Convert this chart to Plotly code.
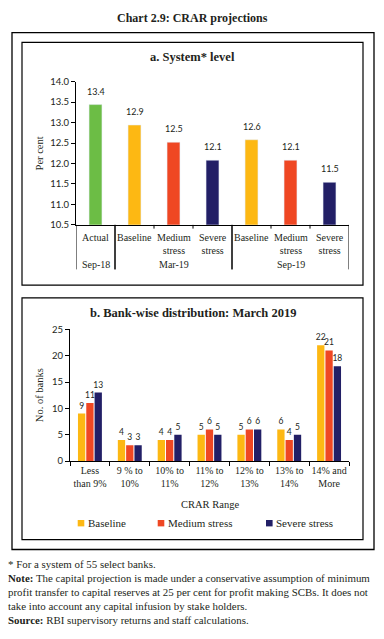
import plotly.graph_objects as go

W, H = 384, 639
def X(p): return p / W
def Y(p): return 1 - p / H

TXT = "#231F20"
SERIF = "Liberation Serif"
SANS = "Lato"

GREEN, YELLOW, RED, NAVY = "#6CBD45", "#FDB813", "#EF4723", "#221F66"

# ---- Panel a data ----
sys_labels = ["Actual", "Baseline", "Medium<br>stress", "Severe<br>stress",
              "Baseline", "Medium<br>stress", "Severe<br>stress"]
sys_periods = ["Sep-18", "Mar-19", "Mar-19", "Mar-19", "Sep-19", "Sep-19", "Sep-19"]
sys_values = [13.44, 12.94, 12.52, 12.08, 12.58, 12.08, 11.54]
sys_colors = [GREEN, YELLOW, RED, NAVY, YELLOW, RED, NAVY]

# ---- Panel b data ----
crar_ranges = ["Less<br>than 9%", "9 % to<br>10%", "10% to<br>11%", "11% to<br>12%",
               "12% to<br>13%", "13% to<br>14%", "14% and<br>More"]
series_names = ["Baseline", "Medium stress", "Severe stress"]
baseline = [9, 4, 4, 5, 5, 6, 22]
medium = [11, 3, 4, 6, 6, 4, 21]
severe = [13, 3, 5, 5, 6, 5, 18]
series_colors = [YELLOW, RED, NAVY]

fig = go.Figure()
idx = list(range(len(sys_values)))
fig.add_trace(go.Bar(x=idx, y=sys_values, marker_color=sys_colors, width=0.33,
                     xaxis="x", yaxis="y", showlegend=False, hoverinfo="skip"))

for name, vals, col in zip(series_names, [baseline, medium, severe], series_colors):
    fig.add_trace(go.Bar(x=crar_ranges, y=vals, name=name, marker_color=col,
                         marker_line_width=0, xaxis="x2", yaxis="y2",
                         text=vals, textposition="outside", cliponaxis=False,
                         constraintext="none",
                         textfont=dict(family=SANS, size=8.5, color=TXT),
                         showlegend=False))

axis_common = dict(showline=True, linecolor="black", linewidth=1, showgrid=False,
                   zeroline=False, ticks="outside", ticklen=4, tickcolor="black",
                   tickfont=dict(family=SANS, size=9.5, color=TXT))

ann = []
shapes = []

# Panel a annotations: bar labels
for i, v in enumerate(sys_values):
    ann.append(dict(x=i, y=v, xref="x", yref="y", text=f"{v:.1f}", showarrow=False,
                    yanchor="bottom", yshift=6, font=dict(family=SANS, size=9, color=TXT)))
# category labels
for i, lab in enumerate(sys_labels):
    ann.append(dict(x=i, y=Y(228), xref="x", yref="paper", text=lab, showarrow=False,
                    yanchor="top", font=dict(family=SERIF, size=10, color=TXT)))
# group labels and separators
groups = []
for i, p in enumerate(sys_periods):
    if not groups or groups[-1][0] != p:
        groups.append([p, i, i])
    else:
        groups[-1][2] = i
for p, a, b in groups:
    ann.append(dict(x=(a + b) / 2, y=Y(263), xref="x", yref="paper", text=p,
                    showarrow=False, yanchor="middle", font=dict(family=SERIF, size=10, color=TXT)))
    for xb in (a - 0.5, b + 0.5):
        shapes.append(dict(type="line", xref="x", yref="paper", x0=xb, x1=xb,
                           y0=Y(222.7), y1=Y(268), line=dict(color="black", width=1)))
    for k in range(a, b):
        shapes.append(dict(type="line", xref="x", yref="paper", x0=k + 0.5, x1=k + 0.5,
                           y0=Y(222.7), y1=Y(226.5), line=dict(color="black", width=1)))

def txt(x, y, text, size, family=SERIF, xanchor="center", angle=0):
    ann.append(dict(x=X(x), y=Y(y), xref="paper", yref="paper", text=text, showarrow=False,
                    xanchor=xanchor, yanchor="middle", textangle=angle,
                    font=dict(family=family, size=size, color=TXT)))

# Titles
txt(192, 12, "<b>Chart 2.9: CRAR projections</b>", 12)
txt(192.5, 52, "<b>a. System* level</b>", 12.5)
txt(192.5, 312, "<b>b. Bank-wise distribution: March 2019</b>", 12.5)
txt(39, 150, "Per cent", 10.5, angle=-90)
txt(39, 396, "No. of banks", 10.5, angle=-90)
txt(209.5, 507, "CRAR Range", 10.5)

# Legend (manual, from the series names/colours)
leg_x = [77.7, 157.7, 266]
for name, col, lx in zip(series_names, series_colors, leg_x):
    shapes.append(dict(type="rect", xref="paper", yref="paper", x0=X(lx), x1=X(lx + 6.6),
                       y0=Y(529.5), y1=Y(523), fillcolor=col, line=dict(width=0)))
    txt(lx + 8, 526.5, name, 11, xanchor="left")

# Footnotes
foot = ["* For a system of 55 select banks.",
        "<b>Note:</b> The capital projection is made under a conservative assumption of minimum",
        "profit transfer to capital reserves at 25 per cent for profit making SCBs. It does not",
        "take into account any capital infusion by stake holders.",
        "<b>Source:</b> RBI supervisory returns and staff calculations."]
for k, line in enumerate(foot):
    txt(6, 568 + k * 14.2, line, 10.9, xanchor="left")

# Boxes
for (x0, y0, x1, y1, w) in [(12, 27, 374, 553, 1.3), (22, 37, 363, 284, 1.2), (22, 297, 363, 543, 1.2)]:
    shapes.append(dict(type="rect", xref="paper", yref="paper", x0=X(x0), x1=X(x1),
                       y0=Y(y1), y1=Y(y0), line=dict(color="black", width=w)))

fig.update_layout(
    width=W, height=639, margin=dict(l=0, r=0, t=0, b=0),
    paper_bgcolor="white", plot_bgcolor="white", showlegend=False,
    barmode="group", bargap=0.375, bargroupgap=0.12,
    xaxis=dict(domain=[X(76), X(349)], range=[-0.5, 6.5], showticklabels=False, ticks="",
               showline=True, linecolor="black", showgrid=False, zeroline=False, fixedrange=True),
    yaxis=dict(domain=[Y(222.7), Y(77)], range=[10.5, 14.0], dtick=0.5, tickformat=".1f",
               anchor="x", **axis_common),
    xaxis2=dict(domain=[X(70), X(349)], anchor="y2", tickson="boundaries", tickangle=0,
                **{**axis_common, "tickfont": dict(family=SERIF, size=10, color=TXT)}),
    yaxis2=dict(domain=[Y(463), Y(329)], range=[0, 25], dtick=5, anchor="x2", **axis_common),
    annotations=ann, shapes=shapes,
)

fig.write_html("out.html", config={"displayModeBar": False},
               post_script="document.body.style.margin='0';")
